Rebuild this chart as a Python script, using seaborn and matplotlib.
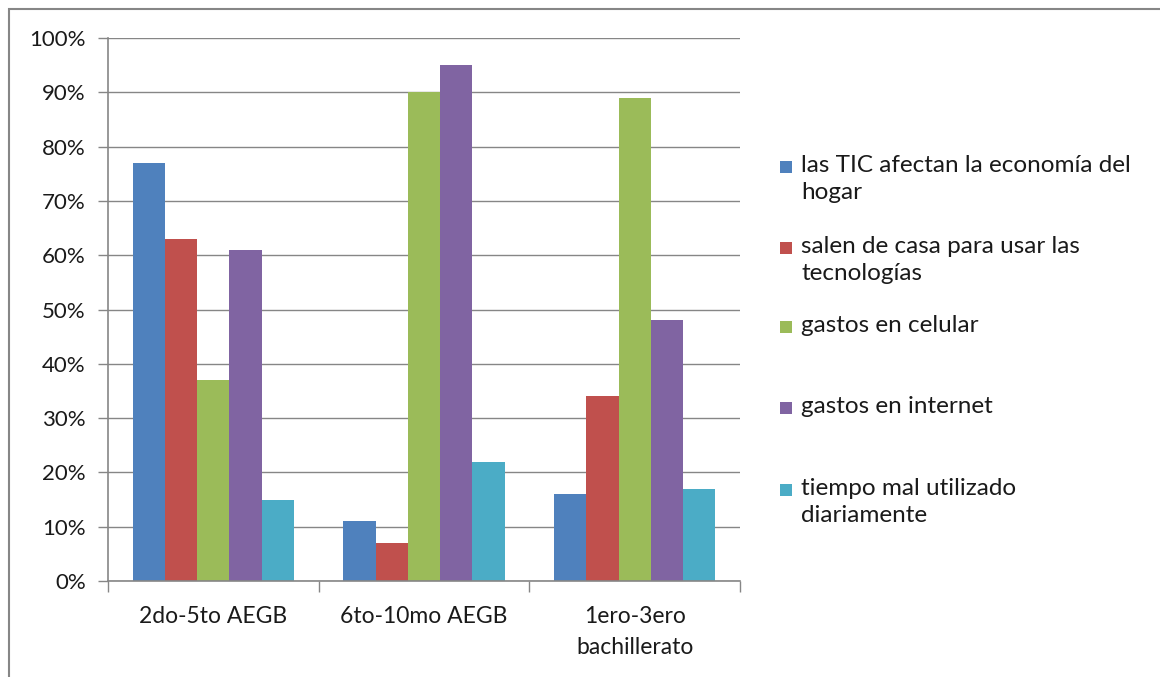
import pandas as pd
import numpy as np
import matplotlib.pyplot as plt
import seaborn as sns
from matplotlib.patches import Rectangle
from matplotlib.ticker import FixedLocator, FuncFormatter

# Data (percent)
groups = ['2do-5to AEGB', '6to-10mo AEGB', '1ero-3ero\nbachillerato']
series = ['las TIC afectan la economía del\nhogar',
          'salen de casa para usar las\ntecnologías',
          'gastos en celular',
          'gastos en internet',
          'tiempo mal utilizado\ndiariamente']
tic_hogar = [77, 11, 16]
salen_casa = [63, 7, 34]
gastos_celular = [37, 90, 89]
gastos_internet = [61, 95, 48]
tiempo_mal = [15, 22, 17]
colors = ['#4F81BD', '#C0504D', '#9BBB59', '#8064A2', '#4BACC6']

values = [tic_hogar, salen_casa, gastos_celular, gastos_internet, tiempo_mal]
rows = []
for name, vals in zip(series, values):
    for g, v in zip(groups, vals):
        rows.append({'grupo': g, 'serie': name, 'valor': v})
df = pd.DataFrame(rows)

sns.set_theme(style="white")
plt.rcParams['font.family'] = ['Lato', 'DejaVu Sans']
grey = '#868686'
txt = '#1a1a1a'

W, H = 1160, 677
fx = lambda px: px / W
fy = lambda py: 1 - py / H

fig = plt.figure(figsize=(11.6, 6.77), dpi=100)
ax = fig.add_axes([fx(108), fy(581), fx(740) - fx(108), fy(38) - fy(581)])

sns.barplot(data=df, x='grupo', y='valor', hue='serie', palette=colors,
            saturation=1, width=0.765, linewidth=0, legend=False, ax=ax)

ax.set_ylim(0, 100)
ax.set_xlim(-0.5, 2.5)
ax.yaxis.set_major_locator(FixedLocator(range(0, 101, 10)))
ax.yaxis.set_major_formatter(FuncFormatter(lambda v, p: f'{int(v)}%'))
ax.grid(axis='y', color=grey, linewidth=1)
ax.set_axisbelow(True)
for s in ['top', 'right']:
    ax.spines[s].set_visible(False)
for s in ['left', 'bottom']:
    ax.spines[s].set_color(grey)
    ax.spines[s].set_linewidth(1.2)

ax.tick_params(axis='y', which='major', length=7, width=1, color=grey,
               labelsize=16, labelcolor=txt, pad=9, left=True)
ax.tick_params(axis='x', which='major', length=0, labelsize=16.5,
               labelcolor=txt, pad=18)
ax.xaxis.set_minor_locator(FixedLocator([-0.5, 0.5, 1.5, 2.5]))
ax.tick_params(axis='x', which='minor', length=8, width=1, color=grey, bottom=True)
for lab in ax.get_xticklabels():
    lab.set_linespacing(1.6)
ax.set_xlabel('')
ax.set_ylabel('')

# Legend on the right, Excel style
entry_y = [167, 248, 327, 408, 490]
for name, c, yy in zip(series, colors, entry_y):
    fig.add_artist(Rectangle((fx(780), fy(yy + 6)), fx(12), fy(yy - 6) - fy(yy + 6),
                             transform=fig.transFigure, facecolor=c, edgecolor='none'))
    fig.text(fx(801), fy(yy - 12), name, fontsize=17.5, color=txt, va='top',
             ha='left', linespacing=1.38)

# outer chart border
fig.add_artist(Rectangle((fx(9), -0.1), 1.2, fy(9) + 0.1, transform=fig.transFigure,
                         facecolor='none', edgecolor=grey, linewidth=1.5))

fig.savefig('out.png', dpi=100)
